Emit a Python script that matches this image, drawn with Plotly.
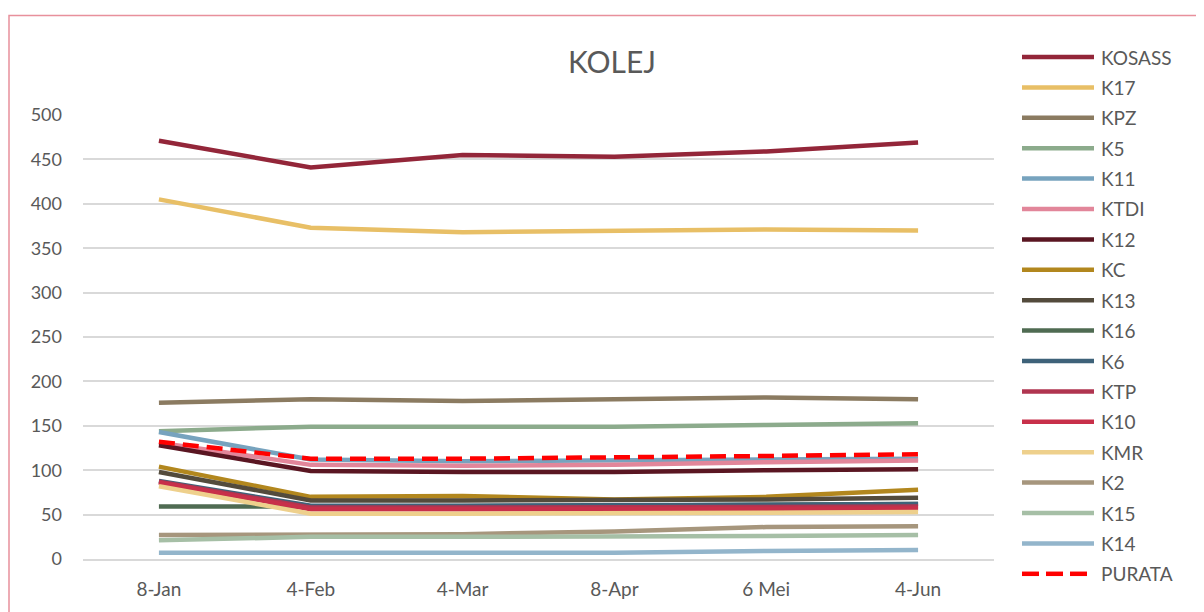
import plotly.graph_objects as go

# data
dates = ['8-Jan', '4-Feb', '4-Mar', '8-Apr', '6 Mei', '4-Jun']
names = ['KOSASS', 'K17', 'KPZ', 'K5', 'K11', 'KTDI', 'K12', 'KC', 'K13',
         'K16', 'K6', 'KTP', 'K10', 'KMR', 'K2', 'K15', 'K14', 'PURATA']
kosass = [471, 441, 455, 453, 459, 469]
k17 = [405, 373, 368, 369, 371, 370]
kpz = [176, 180, 178, 180, 182, 180]
k5 = [144, 149, 149, 149, 151, 153]
k11 = [143, 112, 110, 111, 112, 113]
ktdi = [131, 106, 105, 106, 109, 111]
k12 = [128, 99, 98, 98, 100, 101]
kc = [104, 70, 71, 67, 70, 78]
k13 = [98, 66, 66, 66, 67, 69]
k16 = [59, 59, 59, 60, 61, 62]
k6 = [88, 60, 60, 60, 61, 62]
ktp = [87, 58, 58, 58, 59, 59]
k10 = [86, 56, 56, 56, 57, 57]
kmr = [82, 51, 51, 51, 52, 53]
k2 = [27, 28, 28, 31, 36, 37]
k15 = [21, 25, 25, 25, 26, 27]
k14 = [7, 7, 7, 7, 9, 10]
purata = [132, 113, 113, 114, 116, 118]

series = [kosass, k17, kpz, k5, k11, ktdi, k12, kc, k13,
          k16, k6, ktp, k10, kmr, k2, k15, k14, purata]
colors = ['#932639', '#E8BF66', '#8B7B61', '#8CAB8C', '#77A3BE', '#E2869A',
          '#5A1622', '#B2871E', '#534B3C', '#4F6B52', '#3E6279', '#B03550',
          '#C8304A', '#EED08C', '#A6967D', '#A6BFA6', '#93B5CB', '#FF0000']

FONT = 'Lato, Carlito, Calibri, sans-serif'
GREY = '#595959'

# page body has an 8px margin, so work in page pixels and shift
OFF = 8
W, H = 1204, 612
L, R, T, B = 83 - OFF, 994 - OFF, 115 - OFF, 559 - OFF

def px_x(p):
    return (p - OFF - L) / (R - L)

def px_y(p):
    return (B - (p - OFF)) / (B - T)

fig = go.Figure()
for name, vals, col in zip(names, series, colors):
    dash = '16px,8px' if name == 'PURATA' else 'solid'
    fig.add_trace(go.Scatter(x=dates, y=vals, name=name, mode='lines',
                             line=dict(color=col, width=4.5, dash=dash),
                             showlegend=False))

# legend drawn by hand (longer line samples like Excel)
for i, (name, col) in enumerate(zip(names, colors)):
    yy = px_y(57 + i * 30.4)
    if name == 'PURATA':
        for s in range(3):
            fig.add_shape(type='line', xref='paper', yref='paper',
                          x0=px_x(1022 + s * 24), x1=px_x(1039 + s * 24), y0=yy, y1=yy,
                          line=dict(color=col, width=4.5))
    else:
        fig.add_shape(type='line', xref='paper', yref='paper',
                      x0=px_x(1022), x1=px_x(1094), y0=yy, y1=yy,
                      line=dict(color=col, width=4.5))
    fig.add_annotation(text=name, xref='paper', yref='paper', x=px_x(1099), y=yy,
                       xanchor='left', yanchor='middle', showarrow=False,
                       font=dict(family=FONT, size=19, color=GREY))

# title
fig.add_annotation(text='KOLEJ', xref='paper', yref='paper', x=px_x(612), y=px_y(61),
                   xanchor='center', yanchor='middle', showarrow=False,
                   font=dict(family=FONT, size=30, color=GREY))

# chart border
fig.add_shape(type='rect', xref='paper', yref='paper',
              x0=px_x(9), x1=px_x(1240), y0=px_y(15.5), y1=px_y(650),
              line=dict(color='#E8909C', width=1.5), layer='above')

fig.update_layout(
    width=W, height=H,
    margin=dict(l=L, r=W - R, t=T, b=H - B),
    plot_bgcolor='white', paper_bgcolor='white',
    font=dict(family=FONT, size=18, color=GREY),
    xaxis=dict(type='category', showgrid=False, zeroline=False,
               showline=True, linecolor='#D9D9D9', linewidth=1.5,
               ticks='outside', ticklen=12, tickcolor='rgba(0,0,0,0)',
               range=[-0.5, 5.5], tickfont=dict(size=19)),
    yaxis=dict(range=[0, 500], dtick=50, showgrid=True, gridcolor='#D9D9D9',
               gridwidth=1.5, zeroline=False, showline=False,
               ticklabelstandoff=20),
)

fig.write_html('out.html')
